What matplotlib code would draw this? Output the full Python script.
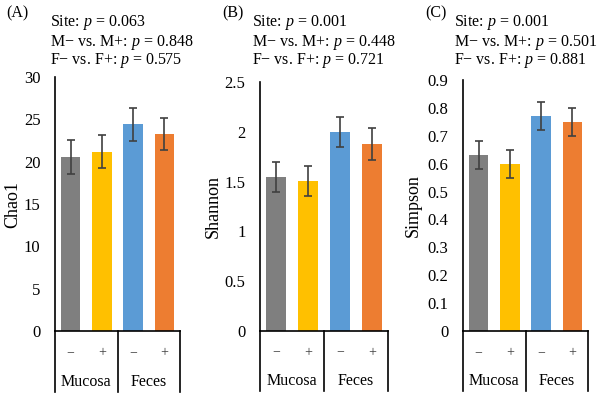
import matplotlib
matplotlib.use("Agg")
from matplotlib import pyplot as plt

plt.rcParams['font.family'] = ['Liberation Serif', 'DejaVu Serif']
plt.rcParams['mathtext.fontset'] = 'custom'
plt.rcParams['mathtext.it'] = 'Liberation Serif:italic'
plt.rcParams['mathtext.rm'] = 'Liberation Serif'

# data
groups = ["Mucosa", "Feces"]
signs = ["\u2212", "+", "\u2212", "+"]
colors = ["#7f7f7f", "#ffc000", "#5b9bd5", "#ed7d31"]

chao1 = [20.6, 21.2, 24.4, 23.3]
chao1_err = [2.0, 1.9, 1.9, 1.9]
shannon = [1.55, 1.51, 2.0, 1.88]
shannon_err = [0.15, 0.15, 0.15, 0.16]
simpson = [0.63, 0.60, 0.77, 0.75]
simpson_err = [0.05, 0.05, 0.05, 0.05]

panel_labels = ["(A)", "(B)", "(C)"]
ylabels = ["Chao1", "Shannon", "Simpson"]
p_site = ["0.063", "0.001", "0.001"]
p_m = ["0.848", "0.448", "0.501"]
p_f = ["0.575", "0.721", "0.881"]
yticks = [[0, 5, 10, 15, 20, 25, 30],
          [0, 0.5, 1, 1.5, 2, 2.5],
          [0, 0.1, 0.2, 0.3, 0.4, 0.5, 0.6, 0.7, 0.8, 0.9]]
ytick_labels = [["0", "5", "10", "15", "20", "25", "30"],
                ["0", "0.5", "1", "1.5", "2", "2.5"],
                ["0", "0.1", "0.2", "0.3", "0.4", "0.5", "0.6", "0.7", "0.8", "0.9"]]

W, H = 600, 394
fig = plt.figure(figsize=(6, 3.94), dpi=100)

# axes boxes in pixels: left, right, top
boxes = [(55, 180, 77), (260, 388, 82), (463, 588, 80)]
label_x = [6, 222, 425]
text_x = [50, 252, 454]
ylabel_x = [13, 213, 413]
bottom_px = 331

series = [(chao1, chao1_err), (shannon, shannon_err), (simpson, simpson_err)]

for k in range(3):
    l, r, t = boxes[k]
    ax = fig.add_axes([l / W, (H - bottom_px) / H, (r - l) / W, (bottom_px - t) / H])
    vals, errs = series[k]
    x = range(4)
    ax.bar(x, vals, width=0.62, color=colors, zorder=2)
    ax.errorbar(x, vals, yerr=errs, fmt='none', ecolor='#404040', elinewidth=1.2,
                capsize=3, capthick=1.2, zorder=3)
    ax.set_xlim(-0.5, 3.5)
    ax.set_ylim(0, yticks[k][-1])
    ax.set_yticks(yticks[k])
    ax.set_yticklabels(ytick_labels[k], fontsize=12)
    ax.tick_params(axis='y', length=0, pad=10.5)
    ax.set_xticks([])
    ax.spines['top'].set_visible(False)
    ax.spines['right'].set_visible(False)
    ax.spines['left'].set_linewidth(1.2)
    ax.spines['bottom'].set_linewidth(1.2)
    ax.set_ylabel(ylabels[k], fontsize=13, va='center')
    ax.yaxis.set_label_coords((ylabel_x[k] - l) / (r - l), 0.5)

    # category table below the axis
    tr = ax.get_xaxis_transform()
    for xv in [-0.5, 1.5, 3.5]:
        ax.plot([xv, xv], [0, -0.24], transform=tr, color='black', lw=1.2, clip_on=False)
    for i in range(4):
        ax.text(i, -0.085, signs[i], transform=tr, ha='center', va='center', fontsize=10,
                color='#404040')
    ax.text(0.5, -0.2, groups[0], transform=tr, ha='center', va='center', fontsize=11.5)
    ax.text(2.5, -0.2, groups[1], transform=tr, ha='center', va='center', fontsize=11.5)

    # panel label and p-values
    fig.text(label_x[k] / W, 1 - 13 / H, panel_labels[k], fontsize=11.5, ha='left', va='center')
    lines = ["Site: $p$ = " + p_site[k],
             "M\u2212 vs. M+: $p$ = " + p_m[k],
             "F\u2212 vs. F+: $p$ = " + p_f[k]]
    for j, yy in enumerate([22, 42, 61]):
        fig.text(text_x[k] / W, 1 - yy / H, lines[j], fontsize=11.5, ha='left', va='center')

fig.savefig("out.png", dpi=100)
